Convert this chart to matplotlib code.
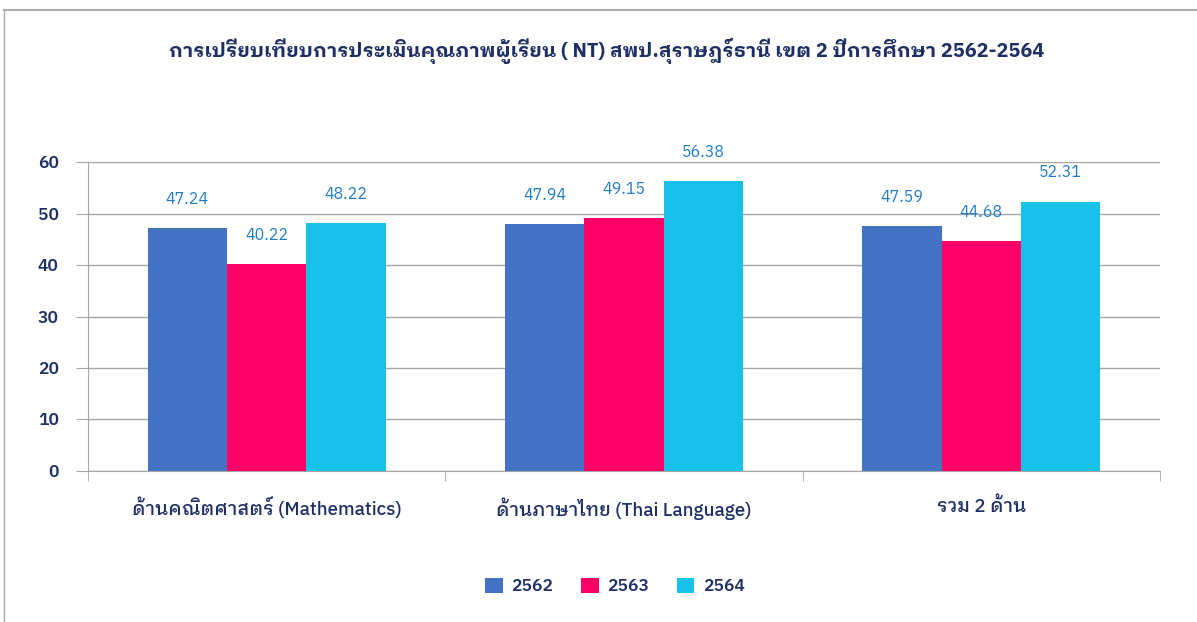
import matplotlib
matplotlib.use("Agg")
import matplotlib.pyplot as plt
from matplotlib.lines import Line2D
import numpy as np

plt.rcParams['font.family'] = ['IBM Plex Sans Thai Looped', 'IBM Plex Sans Thai',
                               'Sarabun', 'DejaVu Sans']

title = "การเปรียบเทียบการประเมินคุณภาพผู้เรียน ( NT) สพป.สุราษฎร์ธานี เขต 2 ปีการศึกษา 2562-2564"
categories = ["ด้านคณิตศาสตร์ (Mathematics)", "ด้านภาษาไทย (Thai Language)", "รวม 2 ด้าน"]
years = ["2562", "2563", "2564"]
v2562 = [47.24, 47.94, 47.59]
v2563 = [40.22, 49.15, 44.68]
v2564 = [48.22, 56.38, 52.31]
colors = ["#4472C4", "#FF0066", "#17C1EA"]

navy = "#1F2F66"
grid_c = "#A6A6A6"

fig = plt.figure(figsize=(11.97, 6.22), dpi=100)
ax = fig.add_axes([0.0735, 0.2428, 0.8955, 0.4967])

x = np.arange(len(categories))
w = 0.222
for i, (vals, yr) in enumerate(zip([v2562, v2563, v2564], years)):
    bars = ax.bar(x + (i - 1) * w, vals, w, color=colors[i], label=yr, zorder=3)
    for b, v in zip(bars, vals):
        ax.annotate(f"{v:.2f}", (b.get_x() + b.get_width() / 2, v),
                    xytext=(0, 21), textcoords="offset points",
                    ha="center", va="center", fontsize=11.5, color="#1F7BC8")

ax.set_xlim(-0.5, 2.5)
ax.set_ylim(0, 60)
ax.set_yticks(range(0, 61, 10))
ax.yaxis.grid(True, color=grid_c, linewidth=1, zorder=0)
ax.tick_params(axis='y', length=9, color=grid_c, labelsize=12.5, labelcolor=navy, pad=12)
for lab in ax.get_yticklabels():
    lab.set_fontweight("semibold")

ax.set_xticks(x)
ax.set_xticklabels(categories, fontsize=13.5, color=navy, fontweight="medium")
ax.tick_params(axis='x', length=0, pad=19)
ax.set_xticks([-0.5, 0.5, 1.5, 2.5], minor=True)
ax.tick_params(axis='x', which='minor', length=7, color=grid_c)

for s in ["top", "right"]:
    ax.spines[s].set_visible(False)
ax.spines["left"].set_color(grid_c)
ax.spines["bottom"].set_color(grid_c)

fig.text(0.507, 0.918, title, ha="center", va="center", fontsize=14.3,
         fontweight="bold", color=navy)

fig.legend(loc="center", bbox_to_anchor=(0.514, 0.058), ncol=3, frameon=False,
           handlelength=1.0, handleheight=1.0, handletextpad=0.5,
           columnspacing=1.6, labelcolor=navy, prop={'weight': 'semibold', 'size': 12.5})

# outer frame remnants of the chart box
fig.add_artist(Line2D([0.003, 1.0], [0.984, 0.984], color="#ABABAB", linewidth=1.5))
fig.add_artist(Line2D([0.003, 0.003], [0.0, 0.984], color="#ABABAB", linewidth=1))

fig.savefig("out.png", dpi=100)
